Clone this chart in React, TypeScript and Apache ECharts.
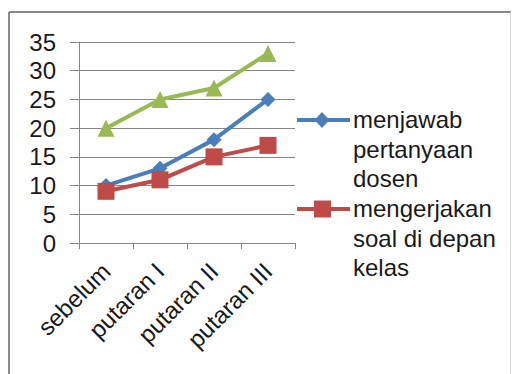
import React, { useEffect, useRef } from "react";
import * as echarts from "echarts";

const categories = ["sebelum", "putaran I", "putaran II", "putaran III"];
const menjawab = [10, 13, 18, 25];
const mengerjakan = [9, 11, 15, 17];
const ketiga = [20, 25, 27, 33];
const legendLabels = ["menjawab\npertanyaan\ndosen", "mengerjakan\nsoal di depan\nkelas"];

const BLUE = "#4A7EBB";
const RED = "#BE4B48";
const GREEN = "#98B954";
const FONT = "Liberation Sans";

export default function App() {
  const ref = useRef<HTMLDivElement>(null);
  useEffect(() => {
    if (!ref.current) return;
    const chart = echarts.init(ref.current, null, { renderer: "svg" });
    chart.setOption({
      animation: false,
      backgroundColor: "#ffffff",
      grid: { left: 79, right: 217, top: 42, bottom: 131, containLabel: false },
      xAxis: {
        type: "category",
        data: categories,
        boundaryGap: true,
        axisLine: { lineStyle: { color: "#868686", width: 1 } },
        axisTick: { show: true, length: 6, lineStyle: { color: "#868686" } },
        axisLabel: {
          rotate: 45,
          margin: 24,
          fontFamily: FONT,
          fontSize: 24,
          color: "#1a1a1a",
          interval: 0,
        },
        splitLine: { show: false },
      },
      yAxis: {
        type: "value",
        min: 0,
        max: 35,
        interval: 5,
        axisLine: { show: true, lineStyle: { color: "#868686", width: 1 } },
        axisTick: { show: true, length: 9, lineStyle: { color: "#868686" } },
        axisLabel: { margin: 23, fontFamily: FONT, fontSize: 24, color: "#1a1a1a" },
        splitLine: { show: true, lineStyle: { color: "#868686", width: 1 } },
      },
      series: [
        {
          name: "ketiga",
          type: "line",
          data: ketiga,
          symbol: "triangle",
          symbolSize: 17,
          lineStyle: { color: GREEN, width: 4 },
          itemStyle: { color: GREEN },
        },
        {
          name: legendLabels[0],
          type: "line",
          data: menjawab,
          symbol: "diamond",
          symbolSize: 15,
          lineStyle: { color: BLUE, width: 4 },
          itemStyle: { color: BLUE },
        },
        {
          name: legendLabels[1],
          type: "line",
          data: mengerjakan,
          symbol: "rect",
          symbolSize: 17,
          lineStyle: { color: RED, width: 4 },
          itemStyle: { color: RED },
        },
      ],
      graphic: [
        { type: "line", shape: { x1: 9, y1: 12, x2: 511, y2: 12 }, style: { stroke: "#8a8a8a", lineWidth: 2 } },
        { type: "line", shape: { x1: 9, y1: 12, x2: 9, y2: 374 }, style: { stroke: "#8a8a8a", lineWidth: 2 } },
        { type: "line", shape: { x1: 510.5, y1: 12, x2: 510.5, y2: 374 }, style: { stroke: "#d8d8d8", lineWidth: 1 } },
        { type: "line", shape: { x1: 297, y1: 120, x2: 350, y2: 120 }, style: { stroke: BLUE, lineWidth: 4 } },
        {
          type: "polygon",
          shape: { points: [[322, 112], [329.5, 120], [322, 128], [314.5, 120]] },
          style: { fill: BLUE },
        },
        { type: "line", shape: { x1: 297, y1: 209, x2: 350, y2: 209 }, style: { stroke: RED, lineWidth: 4 } },
        { type: "rect", shape: { x: 314, y: 200.5, width: 17, height: 17 }, style: { fill: RED } },
        {
          type: "text",
          x: 353,
          y: 105,
          style: {
            text: legendLabels[0],
            fontFamily: FONT,
            fontSize: 24,
            lineHeight: 29.5,
            fill: "#1a1a1a",
            verticalAlign: "top",
          },
        },
        {
          type: "text",
          x: 353,
          y: 194,
          style: {
            text: legendLabels[1],
            fontFamily: FONT,
            fontSize: 24,
            lineHeight: 29.5,
            fill: "#1a1a1a",
            verticalAlign: "top",
          },
        },
      ],
    });
    return () => chart.dispose();
  }, []);
  return (
    <div
      ref={ref}
      style={{ position: "fixed", left: 0, top: 0, width: 512, height: 374 }}
    />
  );
}
